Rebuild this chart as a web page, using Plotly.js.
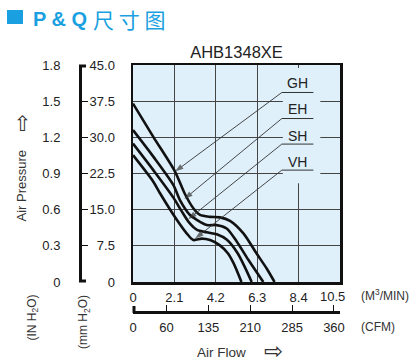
<!DOCTYPE html>
<html><head><meta charset="utf-8">
<script src="https://cdn.plot.ly/plotly-3.0.1.min.js"></script>
<style>html,body{margin:0;padding:0;background:#fff}#chart{width:409px;height:363px}</style>
</head><body><div id="chart"></div>
<script>
// ---- data (flow in M3/MIN, pressure in mm H2O) ----
const GH_x = [0, 1.03, 2.13, 2.64, 3.06, 3.40, 3.91, 4.41, 4.92, 5.60, 6.27, 6.78, 7.18];
const GH_y = [37.0, 30.1, 22.9, 18.2, 15.3, 13.9, 13.5, 13.4, 12.7, 10.1, 5.9, 2.8, 0];
const EH_x = [0, 1.03, 2.05, 2.38, 2.89, 3.23, 3.74, 4.24, 4.75, 5.26, 5.85, 6.61];
const EH_y = [31.5, 26.0, 20.1, 17.0, 13.9, 12.9, 11.8, 11.8, 11.1, 8.4, 4.6, 0];
const SH_x = [0, 1.03, 2.05, 2.45, 2.85, 3.25, 3.74, 4.25, 4.75, 5.30, 6.02];
const SH_y = [28.7, 23.2, 17.5, 14.8, 12.3, 10.8, 10.3, 9.9, 8.8, 6.0, 0];
const VH_x = [0, 1.03, 1.37, 2.22, 2.72, 3.06, 3.49, 3.91, 4.41, 4.80, 5.10, 5.50];
const VH_y = [26.3, 20.8, 18.4, 12.9, 10.1, 8.7, 9.0, 8.7, 7.6, 6.0, 3.9, 0];

const seriesNames = ['GH', 'EH', 'SH', 'VH'];
// arrow tips on curves and label anchor heights
const tip_x = [2.13, 2.60, 2.80, 3.15];
const tip_y = [22.9, 17.2, 13.0, 9.0];
const underline_y = [39.3, 33.9, 28.6, 23.2];
const label_y = [41.3, 35.8, 30.3, 24.9];

const flow_ticks = [0, 2.1, 4.2, 6.3, 8.4, 10.5];
const flow_labels = ['0', '2.1', '4.2', '6.3', '8.4', '10.5'];
const cfm_ticks = [0, 60, 135, 210, 285, 360];
const cfm_labels = ['0', '60', '135', '210', '285', '360'];
const mm_ticks = [0, 7.5, 15, 22.5, 30, 37.5, 45];
const mm_labels = ['0', '7.5', '15.0', '22.5', '30.0', '37.5', '45.0'];
const in_ticks = [0, 0.3, 0.6, 0.9, 1.2, 1.5, 1.8];
const in_labels = ['0', '0.3', '0.6', '0.9', '1.2', '1.5', '1.8'];

// ---- layout geometry (pixels) ----
const W = 409, H = 363;
const px = v => v / W;
const py = v => 1 - v / H;
const BLUE = '#1a9fe0';
const TXT = '#222';
const FONT = 'Arial, "Liberation Sans", "DejaVu Sans", sans-serif';

const xs = [GH_x, EH_x, SH_x, VH_x];
const ys = [GH_y, EH_y, SH_y, VH_y];
const traces = xs.map((x, i) => ({
  x: x, y: ys[i], type: 'scatter', mode: 'lines', name: seriesNames[i],
  line: {color: '#111', width: 2.6, shape: 'spline', smoothing: 0.8},
  hoverinfo: 'skip', xaxis: 'x', yaxis: 'y'
}));
// leader arrows from the label underlines to each curve
seriesNames.forEach((n, i) => traces.push({
  x: [7.55, tip_x[i]], y: [underline_y[i], tip_y[i]], type: 'scatter', mode: 'lines+markers',
  line: {color: '#333', width: 0.9}, hoverinfo: 'skip', cliponaxis: false,
  marker: {symbol: 'arrow', angleref: 'previous', size: [0, 9], color: '#333', line: {width: 0}}
}));
// invisible traces to activate secondary axes
traces.push({x: [0], y: [0], xaxis: 'x2', yaxis: 'y', mode: 'markers', marker: {opacity: 0}, hoverinfo: 'skip'});
traces.push({x: [0], y: [0], xaxis: 'x', yaxis: 'y2', mode: 'markers', marker: {opacity: 0}, hoverinfo: 'skip'});

const dom_x = [px(133), px(340)];
const dom_y = [1 - 282 / H, 1 - 65 / H];

const annotations = [];
seriesNames.forEach((n, i) => {
  annotations.push({xref: 'x', yref: 'y', x: 8.35, y: label_y[i], text: n, showarrow: false,
    font: {family: FONT, size: 14, color: TXT}, xanchor: 'center', yanchor: 'middle'});
});
annotations.push(
  {xref: 'paper', yref: 'paper', x: px(31), y: py(19), text: '<b>P & Q</b>', showarrow: false,
   xanchor: 'left', yanchor: 'middle', font: {family: '"Liberation Sans Narrow", "Arial Narrow", Arial, sans-serif', size: 20, color: BLUE}},
  {xref: 'paper', yref: 'paper', x: px(91), y: py(18.5), text: '尺 寸 图', showarrow: false,
   xanchor: 'left', yanchor: 'middle', font: {family: '"Noto Sans CJK SC", sans-serif', size: 21, color: BLUE}},
  {xref: 'paper', yref: 'paper', x: px(21.5), y: py(186), text: 'Air Pressure', textangle: -90, showarrow: false,
   xanchor: 'center', yanchor: 'middle', font: {family: FONT, size: 13, color: '#333'}},
  {xref: 'paper', yref: 'paper', x: px(22), y: py(123), text: '⇨', textangle: -90, showarrow: false,
   xanchor: 'center', yanchor: 'middle', font: {family: '"DejaVu Sans", sans-serif', size: 21, color: '#333'}},
  {xref: 'paper', yref: 'paper', x: px(32.5), y: py(318), text: '(IN H<sub>2</sub>O)', textangle: -90, showarrow: false,
   xanchor: 'center', yanchor: 'middle', font: {family: FONT, size: 12, color: '#333'}},
  {xref: 'paper', yref: 'paper', x: px(84), y: py(322), text: '(mm H<sub>2</sub>O)', textangle: -90, showarrow: false,
   xanchor: 'center', yanchor: 'middle', font: {family: FONT, size: 12, color: '#333'}},
  {xref: 'paper', yref: 'paper', x: px(359), y: py(295), text: '(M<sup>3</sup>/MIN)', showarrow: false,
   xanchor: 'left', yanchor: 'middle', font: {family: FONT, size: 12, color: '#333'}},
  {xref: 'paper', yref: 'paper', x: px(359), y: py(327), text: '(CFM)', showarrow: false,
   xanchor: 'left', yanchor: 'middle', font: {family: FONT, size: 12, color: '#333'}},
  {xref: 'paper', yref: 'paper', x: px(222), y: py(352), text: 'Air Flow', showarrow: false,
   xanchor: 'center', yanchor: 'middle', font: {family: FONT, size: 13.5, color: '#333'}},
  {xref: 'paper', yref: 'paper', x: px(273), y: py(350.5), text: '⇨', showarrow: false,
   xanchor: 'center', yanchor: 'middle', font: {family: '"DejaVu Sans", sans-serif', size: 23, color: '#333'}},
  // last flow tick label, nudged left of the unit label as in the reference
  {xref: 'x', yref: 'paper', x: flow_ticks[5], y: py(296), xshift: -8, text: flow_labels[5], showarrow: false,
   xanchor: 'center', yanchor: 'middle', font: {family: FONT, size: 13, color: TXT}}
);

const shapes = [
  // header square
  {type: 'rect', xref: 'paper', yref: 'paper', x0: px(7), x1: px(23), y0: py(24), y1: py(10), fillcolor: BLUE, line: {width: 0}},
  // label area mask over gridlines
  {type: 'rect', xref: 'x', yref: 'y', x0: 7.6, x1: 9.5, y0: 20.5, y1: 44.4, fillcolor: '#dff0fa', line: {width: 0}, layer: 'between'},
  // bracket caps
  {type: 'line', xref: 'paper', yref: 'paper', x0: px(79), x1: px(86), y0: py(66), y1: py(66), line: {color: '#111', width: 3}},
  {type: 'line', xref: 'paper', yref: 'paper', x0: px(79), x1: px(86), y0: py(281), y1: py(281), line: {color: '#111', width: 3}},
  {type: 'line', xref: 'paper', yref: 'paper', x0: px(134), x1: px(134), y0: py(313), y1: py(306), line: {color: '#111', width: 3}}
];
underline_y.forEach(u => shapes.push({type: 'line', xref: 'x', yref: 'y', x0: 7.55, x1: 9.15, y0: u, y1: u,
  line: {color: '#333', width: 1}}));

const layout = {
  width: W, height: H, autosize: false, showlegend: false,
  paper_bgcolor: '#fff', plot_bgcolor: '#dff0fa',
  margin: {l: 0, r: 0, t: 0, b: 0, pad: 0},
  title: {text: 'AHB1348XE', x: px(236.5), y: py(52), xanchor: 'center', yanchor: 'middle', xref: 'paper',
    font: {family: FONT, size: 16.5, color: TXT}},
  xaxis: {domain: dom_x, range: [0, 10.5], tickvals: flow_ticks.slice(0, 5), ticktext: flow_labels.slice(0, 5), ticks: '',
    showgrid: true, gridcolor: '#444', gridwidth: 1, zeroline: false,
    showline: true, mirror: true, linecolor: '#111', linewidth: 2.5,
    tickfont: {family: FONT, size: 13, color: TXT}, ticklabelstandoff: 2, fixedrange: true},
  xaxis2: {domain: dom_x, overlaying: 'x', anchor: 'free', position: 1 - 312 / H, side: 'bottom',
    range: [0, 370.8], tickvals: cfm_ticks, ticktext: cfm_labels, ticks: 'inside', ticklen: 6, tickwidth: 1,
    tickcolor: '#111', showline: true, linecolor: '#111', linewidth: 3, showgrid: false, zeroline: false,
    tickfont: {family: FONT, size: 13, color: TXT}, ticklabelstandoff: 2, fixedrange: true},
  yaxis: {domain: dom_y, range: [0, 45], tickvals: mm_ticks, ticktext: mm_labels, ticks: '',
    showgrid: true, gridcolor: '#444', gridwidth: 1, zeroline: false,
    showline: true, mirror: true, linecolor: '#111', linewidth: 2.5,
    tickfont: {family: FONT, size: 13, color: TXT}, ticklabelstandoff: 13, fixedrange: true},
  yaxis2: {domain: dom_y, overlaying: 'y', anchor: 'free', position: px(80), side: 'left',
    range: [0, 1.8], tickvals: in_ticks, ticktext: in_labels, ticks: 'inside', ticklen: 6, tickwidth: 1,
    tickcolor: '#111', showline: true, linecolor: '#111', linewidth: 3, showgrid: false, zeroline: false,
    tickfont: {family: FONT, size: 13, color: TXT}, ticklabelstandoff: 16, fixedrange: true},
  annotations: annotations,
  shapes: shapes
};
Plotly.newPlot('chart', traces, layout, {displayModeBar: false, staticPlot: true});
</script></body></html>
